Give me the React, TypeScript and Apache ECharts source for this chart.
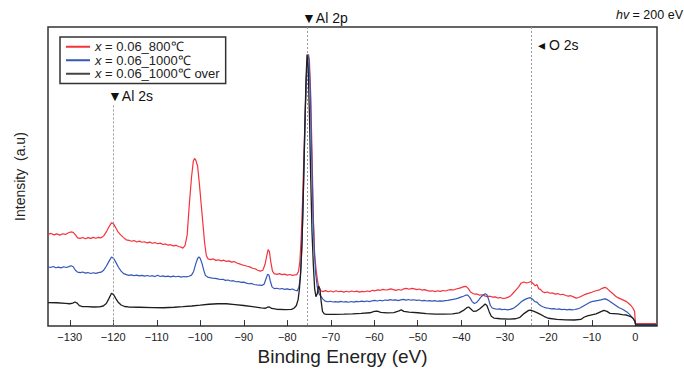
import React, { useEffect, useRef } from "react";
import * as echarts from "echarts";

const xTickValues = [-130, -120, -110, -100, -90, -80, -70, -60, -50, -40, -30, -20, -10, 0];
const seriesNames = ["x = 0.06_800℃", "x = 0.06_1000℃", "x = 0.06_1000℃ over"];
const peakLines = { al2s: -120, al2p: -75.35, o2s: -24 };

const red800: [number, number][] = [
  [-135, 93.5], [-134.3, 94.5], [-133.6, 93], [-133, 94], [-132.3, 92.8], [-131.6, 94.2], [-131, 93.5], [-130.4, 95],
  [-129.8, 96], [-129.2, 95.5], [-128.7, 93], [-128.2, 90], [-127.6, 89.5], [-127, 90.3], [-126.4, 89], [-125.8, 90.2],
  [-125.2, 89.4], [-124.6, 90.5], [-124, 89.6], [-123.4, 90.4], [-122.8, 90], [-122.2, 92], [-121.6, 96], [-121, 101],
  [-120.4, 105.5], [-119.9, 104], [-119.4, 100], [-118.9, 96], [-118.3, 93], [-117.7, 90.5], [-117, 88], [-116.4, 87.5],
  [-115.8, 86.5], [-115.2, 87.2], [-114.6, 85.8], [-114, 86.6], [-113.4, 85.5], [-112.8, 86], [-112.2, 84.8], [-111.6, 85.6],
  [-111, 84.5], [-110.4, 85.2], [-109.8, 84], [-109.2, 84.6], [-108.6, 83.2], [-108, 83.8], [-107.4, 82.5], [-106.8, 83],
  [-106.2, 81.8], [-105.6, 82.4], [-105, 81.2], [-104.4, 80.5], [-104, 79.5], [-103.5, 82], [-103, 93], [-102.5, 125],
  [-102, 152], [-101.6, 168], [-101.3, 171], [-101, 169], [-100.6, 163], [-100.2, 145], [-99.8, 125], [-99.4, 105],
  [-99, 85], [-98.6, 72], [-98.2, 68.5], [-97.6, 67.8], [-97, 68.5], [-96.4, 67], [-95.8, 67.6], [-95.2, 66.5],
  [-94.6, 67.2], [-94, 66], [-93.4, 66.5], [-92.8, 65.2], [-92.2, 65.8], [-91.6, 64.3], [-91, 63.5], [-90.4, 62.5],
  [-89.8, 61.8], [-89.2, 61], [-88.6, 60.4], [-88, 59], [-87.4, 58.5], [-86.8, 57], [-86.2, 56], [-85.6, 57],
  [-85.1, 63], [-84.7, 72], [-84.4, 78], [-84.1, 76], [-83.8, 66], [-83.4, 56], [-83, 53.5], [-82.4, 52.8],
  [-81.8, 53.5], [-81.2, 52.5], [-80.6, 53], [-80, 52], [-79.4, 52.6], [-78.8, 51.8], [-78.2, 52.2], [-77.8, 52.5],
  [-77.4, 56], [-77.1, 66], [-76.8, 90], [-76.5, 125], [-76.2, 170], [-75.9, 215], [-75.6, 255], [-75.3, 275],
  [-75.1, 277], [-74.9, 270], [-74.6, 235], [-74.3, 175], [-74, 110], [-73.7, 72], [-73.3, 55], [-73, 45],
  [-72.7, 38.5], [-72.3, 36], [-71.8, 35.2], [-71.2, 36.2], [-70.6, 35], [-70, 35.8], [-69.4, 34.8], [-68.8, 36],
  [-68.2, 35], [-67.6, 35.6], [-67, 34.6], [-66.4, 35.5], [-65.8, 34.8], [-65.2, 35.8], [-64.6, 35], [-64, 35.6],
  [-63.4, 34.7], [-62.8, 35.4], [-62.2, 35], [-61.6, 35.8], [-61, 35.2], [-60.4, 36.5], [-59.8, 36], [-59.2, 37],
  [-58.6, 36.5], [-58, 37.5], [-57.4, 36.8], [-56.8, 37.2], [-56.2, 38], [-55.6, 37.2], [-55, 36.5], [-54.4, 37.3],
  [-53.8, 36.6], [-53.2, 38], [-52.6, 38.4], [-52, 37.6], [-51.4, 38.5], [-50.8, 38], [-50.2, 37.2], [-49.6, 37.8],
  [-49, 36.6], [-48.4, 37.2], [-47.8, 36.2], [-47.2, 35.6], [-46.6, 36], [-46, 35.2], [-45.4, 36], [-44.8, 35.4],
  [-44.2, 36.3], [-43.6, 35.8], [-43, 36.8], [-42.4, 37.2], [-41.8, 36.8], [-41.2, 37.8], [-40.6, 38.5], [-40, 39.3],
  [-39.4, 40.2], [-38.9, 40.5], [-38.4, 38.5], [-37.9, 35], [-37.4, 33.5], [-36.9, 32.5], [-36.4, 32.8], [-35.8, 31.5],
  [-35.2, 32], [-34.6, 30.8], [-34, 30], [-33.4, 30.5], [-32.8, 29.5], [-32.2, 29.8], [-31.6, 28.6], [-31, 29.2],
  [-30.4, 28.2], [-29.8, 28.5], [-29.2, 29.5], [-28.6, 31], [-28, 34], [-27.4, 37], [-26.8, 40], [-26.2, 44],
  [-25.6, 45], [-25, 44], [-24.5, 44.5], [-24, 45.5], [-23.5, 43.5], [-23, 41], [-22.6, 42.5], [-22.2, 38],
  [-21.8, 37.5], [-21.3, 35], [-20.8, 34.2], [-20.2, 34.8], [-19.6, 33.5], [-19, 33.8], [-18.4, 32.6], [-17.8, 33.2],
  [-17.2, 32], [-16.6, 32.5], [-16, 31.2], [-15.4, 30.6], [-14.8, 31], [-14.2, 29.8], [-13.6, 28.5], [-13, 29.2],
  [-12.4, 30.5], [-11.8, 31.8], [-11.2, 32.8], [-10.6, 33.6], [-10, 34.5], [-9.4, 35.5], [-8.8, 36.3], [-8.2, 37],
  [-7.6, 38.5], [-7, 39.5], [-6.6, 38.8], [-6.2, 37.2], [-5.8, 35.5], [-5.4, 34], [-5, 32.5], [-4.5, 30.5],
  [-4, 29], [-3.5, 28], [-3, 27], [-2.5, 26], [-2, 25], [-1.5, 23], [-1, 21], [-0.5, 18], [-0.15, 15],
  [0.05, 2.5], [2, 2.5], [5, 2.5],
];

const blue1000: [number, number][] = [
  [-135, 60.5], [-134.4, 59.8], [-133.8, 60.8], [-133.2, 59.5], [-132.6, 60.2], [-132, 59.4], [-131.4, 60.5], [-130.8, 59.8],
  [-130.2, 60.6], [-129.7, 61.5], [-129.2, 60.5], [-128.7, 57], [-128.2, 55], [-127.6, 54.5], [-127, 55.2], [-126.4, 54],
  [-125.8, 54.6], [-125.2, 53.6], [-124.6, 54.4], [-124, 53.8], [-123.4, 54.5], [-122.8, 55], [-122.2, 57], [-121.6, 61],
  [-121, 66], [-120.4, 70.5], [-119.9, 69], [-119.4, 65], [-118.8, 60], [-118.2, 56], [-117.6, 53.5], [-117, 52.5],
  [-116.4, 51.8], [-115.8, 52.3], [-115.2, 51.4], [-114.6, 52], [-114, 51.2], [-113.4, 51.8], [-112.8, 51], [-112.2, 51.6],
  [-111.6, 50.8], [-111, 51.4], [-110.4, 50.5], [-109.8, 51.8], [-109.2, 50.6], [-108.6, 51.2], [-108, 50.4], [-107.4, 51],
  [-106.8, 50.2], [-106.2, 51], [-105.6, 50.3], [-105, 50.8], [-104.4, 50], [-103.8, 50.6], [-103.2, 50.2], [-102.6, 50.8],
  [-102, 52], [-101.5, 56], [-101, 64], [-100.6, 69], [-100.3, 70.5], [-100, 69], [-99.6, 64], [-99.2, 57],
  [-98.8, 51.5], [-98.3, 50], [-97.8, 49.5], [-97.2, 49], [-96.6, 48.6], [-96, 48.2], [-95.4, 47.5], [-94.8, 47.8],
  [-94.2, 46.6], [-93.6, 47], [-93, 46], [-92.4, 46.3], [-91.8, 45.2], [-91.2, 45.5], [-90.6, 44.6], [-90, 44.8],
  [-89.4, 43.8], [-88.8, 43.2], [-88.2, 43.5], [-87.6, 42.4], [-87, 42], [-86.4, 41.8], [-85.8, 41.5], [-85.3, 43],
  [-84.9, 48], [-84.5, 53], [-84.2, 52], [-83.9, 46], [-83.5, 40], [-83, 38.2], [-82.4, 38.6], [-81.8, 37.8],
  [-81.2, 38.3], [-80.6, 37.5], [-80, 38], [-79.4, 37.2], [-78.8, 37.8], [-78.2, 36.6], [-77.7, 36], [-77.3, 40],
  [-77, 50], [-76.7, 75], [-76.4, 115], [-76.1, 170], [-75.8, 225], [-75.5, 265], [-75.25, 277], [-75, 272],
  [-74.7, 240], [-74.4, 180], [-74.1, 120], [-73.8, 80], [-73.5, 55], [-73.1, 40], [-72.7, 33], [-72.3, 30.5],
  [-71.8, 27.5], [-71.3, 25.5], [-70.7, 24.8], [-70.1, 25.3], [-69.5, 24.6], [-68.9, 25], [-68.3, 24.4], [-67.7, 25.2],
  [-67.1, 24.6], [-66.5, 25], [-65.9, 24.3], [-65.3, 25.1], [-64.7, 24.5], [-64.1, 25.2], [-63.5, 24.8], [-62.9, 25.5],
  [-62.3, 24.9], [-61.7, 25.6], [-61.1, 25], [-60.5, 25.8], [-59.9, 26.2], [-59.3, 25.6], [-58.7, 26.4], [-58.1, 25.8],
  [-57.5, 26.6], [-56.9, 26.2], [-56.3, 27], [-55.7, 26.4], [-55.1, 26.8], [-54.5, 26], [-53.9, 26.8], [-53.3, 27.2],
  [-52.7, 26.5], [-52.1, 27.1], [-51.5, 26.4], [-50.9, 26.9], [-50.3, 26.2], [-49.7, 26.6], [-49.1, 25.8], [-48.5, 26.3],
  [-47.9, 25.6], [-47.3, 26], [-46.7, 25.4], [-46.1, 25.9], [-45.5, 25.3], [-44.9, 25.8], [-44.3, 25.4], [-43.7, 26],
  [-43.1, 26.3], [-42.5, 26.8], [-41.9, 27.2], [-41.3, 27.8], [-40.7, 28.5], [-40.1, 29.5], [-39.5, 30.5], [-39, 31.5],
  [-38.5, 31.5], [-38, 29], [-37.5, 25], [-37, 23], [-36.5, 24], [-36, 26.5], [-35.5, 29.5], [-35, 31.5],
  [-34.5, 33], [-34.1, 32], [-33.7, 27], [-33.3, 21], [-32.9, 18.5], [-32.4, 17.8], [-31.8, 17.2], [-31.2, 17.6],
  [-30.6, 16.8], [-30, 17.2], [-29.4, 16.6], [-28.8, 17], [-28.2, 17.8], [-27.6, 19.5], [-27, 21.5], [-26.4, 24],
  [-25.8, 26], [-25.2, 27.5], [-24.6, 28.5], [-24.1, 29], [-23.6, 27.5], [-23.1, 25], [-22.6, 24.5], [-22.1, 22],
  [-21.6, 20.5], [-21.1, 19.5], [-20.5, 18.6], [-19.9, 18.2], [-19.3, 17.6], [-18.7, 17.9], [-18.1, 17.2], [-17.5, 17.5],
  [-16.9, 16.8], [-16.3, 17.2], [-15.7, 16.6], [-15.1, 17], [-14.5, 16.5], [-13.9, 16.9], [-13.3, 17.5], [-12.7, 18.5],
  [-12.1, 20], [-11.5, 21.5], [-10.9, 23], [-10.3, 24.5], [-9.7, 25.3], [-9.1, 25.8], [-8.5, 26.2], [-7.9, 26.8],
  [-7.3, 27.5], [-6.8, 27.8], [-6.3, 26.5], [-5.8, 25], [-5.3, 23.5], [-4.8, 22], [-4.3, 20.5], [-3.8, 19],
  [-3.3, 18], [-2.8, 17], [-2.3, 15.5], [-1.8, 14], [-1.3, 12], [-0.8, 9.5], [-0.4, 7], [-0.1, 5],
  [0.1, 1.5], [2, 1.5], [5, 1.5],
];

const black1000over: [number, number][] = [
  [-135, 24], [-133, 23.8], [-131, 23.2], [-130, 22.8], [-129.3, 23.5], [-128.8, 24.6], [-128.3, 23.5], [-127.8, 20.8],
  [-127.2, 20], [-126, 19.8], [-124.5, 19.5], [-123.2, 19.6], [-122.3, 20.5], [-121.6, 23], [-121, 28], [-120.4, 33.5],
  [-119.9, 32], [-119.4, 28], [-118.8, 24], [-118.2, 21.5], [-117.4, 20], [-116.5, 19.5], [-114, 19.2], [-111, 18.8],
  [-108.5, 18.7], [-106, 19.2], [-104, 19.8], [-102, 20.5], [-100, 21.3], [-98, 22.3], [-96, 22.8], [-94, 22.8],
  [-92, 22], [-90, 21], [-88, 19.8], [-86, 18.5], [-85, 18.2], [-84.5, 19.3], [-84.1, 19.5], [-83.6, 18],
  [-82.5, 17.2], [-80.5, 16.8], [-79, 17], [-78.4, 18.5], [-77.9, 21], [-77.5, 27], [-77.2, 38], [-76.9, 55],
  [-76.6, 85], [-76.3, 135], [-76, 195], [-75.7, 250], [-75.45, 277], [-75.2, 265], [-74.9, 215], [-74.6, 150],
  [-74.3, 95], [-74, 62], [-73.7, 38], [-73.4, 30], [-73.1, 33], [-72.8, 41], [-72.5, 38], [-72.2, 25],
  [-71.9, 15], [-71.5, 12.5], [-71, 12], [-69, 12], [-67, 12.2], [-65, 12.5], [-63, 13], [-61, 13.6],
  [-60, 15], [-59.3, 15.2], [-58.5, 14], [-57, 13.5], [-55.5, 13.8], [-54.3, 15.5], [-53.8, 16.5], [-53.2, 15],
  [-52, 14.2], [-50, 13.6], [-48, 12.8], [-46, 12.3], [-44, 12.2], [-42, 12.4], [-40.5, 13.5], [-39.5, 16],
  [-38.8, 18.5], [-38.3, 19.5], [-37.8, 17.5], [-37.2, 15], [-36.6, 15.2], [-35.8, 17.5], [-35, 20.5], [-34.5, 22.5],
  [-34.1, 21], [-33.6, 15], [-33.1, 10], [-32.5, 8.2], [-31, 7.5], [-29, 7.2], [-27.5, 7.5], [-26.5, 9],
  [-25.5, 13], [-24.5, 16], [-24, 16.2], [-23, 14.5], [-22, 12.5], [-21, 10], [-20, 8], [-18, 6.8],
  [-16, 6.3], [-14, 6.2], [-12.5, 6.8], [-11.8, 9], [-11, 10.5], [-10, 11.5], [-9, 12.5], [-8, 14.5],
  [-7.2, 16], [-6.5, 15], [-5.8, 13], [-5, 12.8], [-4, 12.5], [-3, 11.8], [-2, 11.3], [-1.2, 10],
  [-0.5, 8], [-0.1, 5], [0.1, 1], [2, 1], [5, 1],
];

const FONT = "'Liberation Sans', Arial, Helvetica, sans-serif";
const TICK_FONT = "'Liberation Sans Narrow', 'Liberation Sans', Arial, sans-serif";

export default function App() {
  const ref = useRef<HTMLDivElement>(null);
  useEffect(() => {
    document.body.style.margin = "0";
    const chart = echarts.init(ref.current!, null, { renderer: "svg" });
    const dashed = { type: [2, 2] as number[], color: "#9a9a9a", width: 1 };
    const option: any = {
      animation: false,
      backgroundColor: "#ffffff",
      grid: { left: 48, right: 27, top: 27, bottom: 39, show: true, borderColor: "#333", borderWidth: 1.5, backgroundColor: "transparent" },
      legend: {
        orient: "vertical",
        left: 60,
        top: 37,
        padding: [3, 6, 3, 6],
        itemGap: 0,
        itemWidth: 24,
        itemHeight: 2,
        icon: "rect",
        borderColor: "#333",
        borderWidth: 1.5,
        backgroundColor: "#fff",
        data: seriesNames,
        formatter: (name: string) => "{i|x}" + name.slice(1),
        textStyle: {
          fontFamily: FONT,
          fontSize: 13,
          color: "#222",
          lineHeight: 13.5,
          rich: {
            i: { fontStyle: "italic", fontFamily: FONT, fontSize: 13, color: "#222", lineHeight: 13.5 },
          },
        },
      },
      xAxis: {
        type: "value",
        min: -135,
        max: 5,
        name: "Binding Energy (eV)",
        nameLocation: "middle",
        nameGap: 17,
        nameTextStyle: { fontFamily: FONT, fontSize: 19, color: "#222", padding: [0, 20, 0, 0] },
        axisLine: { show: false },
        splitLine: { show: false },
        axisTick: { show: true, inside: true, length: 6, customValues: xTickValues, lineStyle: { color: "#333", width: 1 } },
        axisLabel: {
          customValues: xTickValues,
          margin: 5,
          fontFamily: TICK_FONT,
          fontSize: 11,
          color: "#222",
          formatter: (v: number) => String(v).replace("-", "\u2212"),
        },
      },
      yAxis: {
        type: "value",
        min: 0,
        max: 305,
        name: "Intensity  (a.u)",
        nameLocation: "middle",
        nameGap: 21,
        nameTextStyle: { fontFamily: FONT, fontSize: 14, color: "#222" },
        axisLine: { show: false },
        axisTick: { show: false },
        axisLabel: { show: false },
        splitLine: { show: false },
      },
      series: [
        {
          name: seriesNames[0],
          type: "line",
          data: red800,
          showSymbol: false,
          symbol: "none",
          lineStyle: { color: "#f5323c", width: 1.2 },
          itemStyle: { color: "#f5323c" },
          markLine: {
            silent: true,
            symbol: ["none", "none"],
            label: { show: false },
            lineStyle: dashed,
            data: [
              [{ coord: [peakLines.al2s, 225] }, { coord: [peakLines.al2s, 0] }],
              [{ coord: [peakLines.al2p, 305] }, { coord: [peakLines.al2p, 0] }],
              [{ coord: [peakLines.o2s, 305] }, { coord: [peakLines.o2s, 0] }],
            ],
          },
          z: 3,
        },
        {
          name: seriesNames[1],
          type: "line",
          data: blue1000,
          showSymbol: false,
          symbol: "none",
          lineStyle: { color: "#3557b7", width: 1.2 },
          itemStyle: { color: "#3557b7" },
          z: 4,
        },
        {
          name: seriesNames[2],
          type: "line",
          data: black1000over,
          showSymbol: false,
          symbol: "none",
          lineStyle: { color: "#1e1e1e", width: 1.3 },
          itemStyle: { color: "#444" },
          z: 5,
        },
      ],
      graphic: [
        {
          type: "text",
          x: 302,
          y: 18,
          style: { text: "▼Al 2p", fontFamily: FONT, fontSize: 14, fill: "#111", align: "left", verticalAlign: "middle" },
        },
        {
          type: "text",
          x: 108,
          y: 96,
          style: { text: "▼Al 2s", fontFamily: FONT, fontSize: 14, fill: "#111", align: "left", verticalAlign: "middle" },
        },
        {
          type: "text",
          x: 538,
          y: 45,
          style: { text: "◂ O 2s", fontFamily: FONT, fontSize: 14, fill: "#111", align: "left", verticalAlign: "middle" },
        },
        {
          type: "text",
          x: 683,
          y: 15,
          style: {
            text: "{i|hv} = 200 eV",
            fontFamily: FONT,
            fontSize: 12.5,
            fill: "#111",
            align: "right",
            verticalAlign: "middle",
            rich: { i: { fontStyle: "italic", fontFamily: FONT, fontSize: 12.5, fill: "#111" } },
          },
        },
      ],
    };
    chart.setOption(option);
    return () => chart.dispose();
  }, []);
  return <div ref={ref} style={{ width: 684, height: 371 }} />;
}
